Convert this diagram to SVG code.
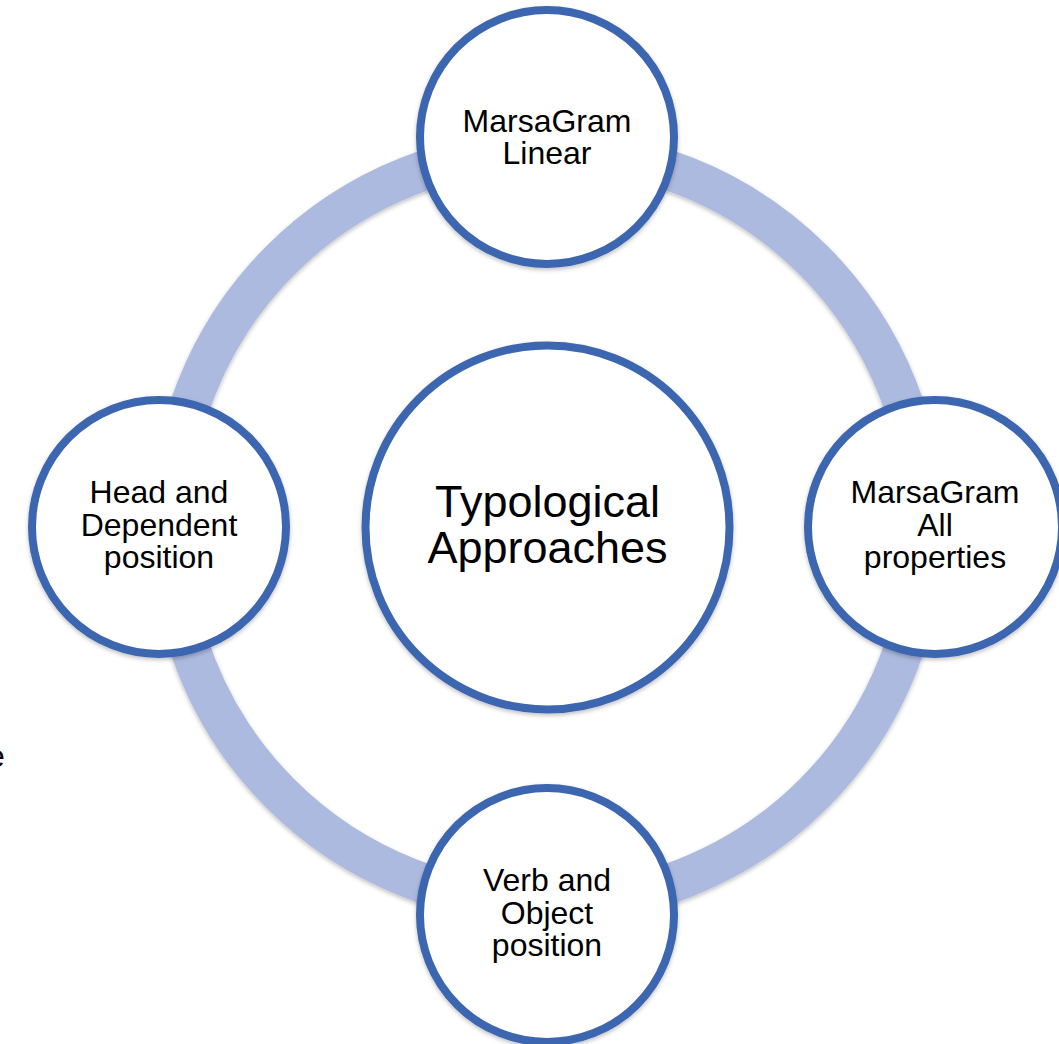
<svg xmlns="http://www.w3.org/2000/svg" width="1059" height="1044" viewBox="0 0 1059 1044">
  <defs>
    <filter id="sh" x="-20%" y="-20%" width="140%" height="140%">
      <feDropShadow dx="0" dy="2" stdDeviation="2" flood-color="#000" flood-opacity="0.25"/>
    </filter>
    <style>
      .ring { fill: none; stroke: #adbadf; stroke-width: 40; }
      .node { fill: #ffffff; stroke: #3e66b0; stroke-width: 8; }
      .lbl { font-family: "Liberation Sans", Arial, sans-serif; font-size: 32px; fill: #000; text-anchor: middle; }
      .big { font-family: "Liberation Sans", Arial, sans-serif; font-size: 45px; fill: #000; text-anchor: middle; }
    </style>
  </defs>
  <rect width="1059" height="1044" fill="#ffffff"/>
  <text x="-13" y="767" style="font-family: 'Liberation Sans', Arial, sans-serif; font-size: 32px; fill: #000;">e</text>
  <g id="connectors">
    <circle class="ring" cx="547" cy="527" r="377" filter="url(#sh)"/>
  </g>
  <g id="node-center">
    <circle class="node" cx="547.5" cy="527.5" r="182" filter="url(#sh)"/>
    <text class="big" x="547.5" y="517">Typological</text>
    <text class="big" x="547.5" y="563">Approaches</text>
  </g>
  <g id="node-top">
    <circle class="node" cx="547" cy="137" r="127" filter="url(#sh)"/>
    <text class="lbl" x="547" y="132">MarsaGram</text>
    <text class="lbl" x="547" y="164">Linear</text>
  </g>
  <g id="node-right">
    <circle class="node" cx="935" cy="527" r="127" filter="url(#sh)"/>
    <text class="lbl" x="935" y="503">MarsaGram</text>
    <text class="lbl" x="935" y="536">All</text>
    <text class="lbl" x="935" y="568">properties</text>
  </g>
  <g id="node-bottom">
    <circle class="node" cx="547" cy="915" r="127" filter="url(#sh)"/>
    <text class="lbl" x="547" y="891">Verb and</text>
    <text class="lbl" x="547" y="924">Object</text>
    <text class="lbl" x="547" y="956">position</text>
  </g>
  <g id="node-left">
    <circle class="node" cx="159" cy="527" r="127" filter="url(#sh)"/>
    <text class="lbl" x="159" y="503">Head and</text>
    <text class="lbl" x="159" y="536">Dependent</text>
    <text class="lbl" x="159" y="568">position</text>
  </g>
</svg>
